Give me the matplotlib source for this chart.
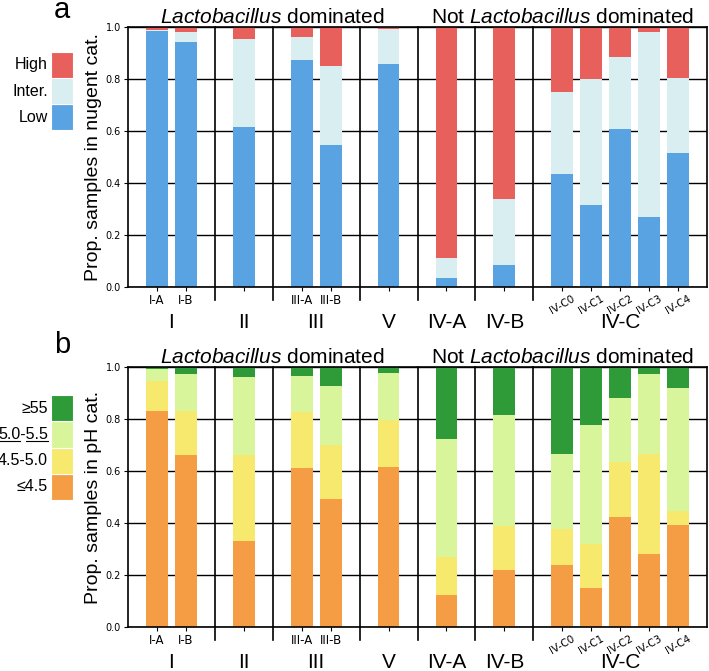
import numpy as np
import matplotlib.pyplot as plt
from matplotlib.transforms import blended_transform_factory, offset_copy

plt.rcParams['font.family'] = ['Liberation Sans', 'DejaVu Sans']
plt.rcParams['mathtext.fontset'] = 'custom'
plt.rcParams['mathtext.rm'] = 'Liberation Sans'
plt.rcParams['mathtext.it'] = 'Liberation Sans:italic'

# subgroup (bar) labels and x positions
subgroups = ['I-A', 'I-B', '', 'III-A', 'III-B', '', '', '',
             'IV-C0', 'IV-C1', 'IV-C2', 'IV-C3', 'IV-C4']
positions = [0, 1, 3, 5, 6, 8, 10, 12, 14, 15, 16, 17, 18]
groups = ['I', 'II', 'III', 'V', 'IV-A', 'IV-B', 'IV-C']
group_pos = [0.5, 3, 5.5, 8, 10, 12, 16]
separators = [2, 4, 7, 9, 11, 13]

# panel a: nugent categories (proportions)
nugent_low = [0.983, 0.941, 0.615, 0.874, 0.546, 0.858, 0.033, 0.085, 0.436, 0.314, 0.609, 0.269, 0.515]
nugent_inter = [0.005, 0.041, 0.340, 0.089, 0.303, 0.134, 0.077, 0.253, 0.315, 0.486, 0.274, 0.712, 0.290]
nugent_high = [0.012, 0.018, 0.045, 0.037, 0.151, 0.008, 0.890, 0.662, 0.249, 0.200, 0.117, 0.019, 0.195]

# panel b: pH categories (proportions)
ph_le45 = [0.832, 0.663, 0.332, 0.610, 0.492, 0.615, 0.122, 0.221, 0.240, 0.150, 0.422, 0.279, 0.394]
ph_45_50 = [0.113, 0.169, 0.331, 0.216, 0.209, 0.181, 0.146, 0.169, 0.137, 0.171, 0.214, 0.388, 0.053]
ph_50_55 = [0.047, 0.141, 0.297, 0.141, 0.225, 0.181, 0.456, 0.425, 0.287, 0.456, 0.246, 0.307, 0.474]
ph_ge55 = [0.008, 0.027, 0.040, 0.033, 0.074, 0.023, 0.276, 0.185, 0.336, 0.223, 0.118, 0.026, 0.079]

nugent_labels = ['Low', 'Inter.', 'High']
nugent_colors = ['#5aa3e3', '#d9eef1', '#e8605c']
ph_labels = ['≤4.5', '4.5-5.0', '5.0-5.5', '≥55']
ph_colors = ['#f59d45', '#f6e96e', '#d9f59c', '#2e9b38']

fig = plt.figure(figsize=(7.09, 6.71), dpi=100)
renderer = fig.canvas.get_renderer()


def panel(rect, series, colors, ylabel, letter, leg_rect, leg_labels):
    ax = fig.add_axes(rect)
    bottom = np.zeros(len(positions))
    for vals, c in zip(series, colors):
        ax.bar(positions, vals, width=0.75, bottom=bottom, color=c, zorder=2)
        bottom += np.array(vals)
    ax.set_xlim(-1, 19)
    ax.set_ylim(0, 1)
    ax.set_yticks([0, 0.2, 0.4, 0.6, 0.8, 1.0])
    ax.set_yticklabels(['0.0', '0.2', '0.4', '0.6', '0.8', '1.0'], family='DejaVu Sans')
    ax.yaxis.grid(True, color='black', lw=1)
    ax.set_axisbelow(True)
    for s in ax.spines.values():
        s.set_linewidth(1.2)
    ax.tick_params(axis='y', labelsize=7, length=3, pad=2)
    ax.tick_params(axis='x', labelsize=8.5, length=3, pad=2)
    ax.set_xticks(positions)
    ax.set_xticklabels(subgroups, family='DejaVu Sans')
    for lab, name in zip(ax.get_xticklabels(), subgroups):
        if name.startswith('IV-C'):
            lab.set_rotation(30)
            lab.set_fontsize(7.5)
    ax.set_ylabel(ylabel, fontsize=14, labelpad=3)

    tr = blended_transform_factory(ax.transData, ax.transAxes)
    for s in separators:
        ax.plot([s, s], [-0.05, 1], color='black', lw=1.2, transform=tr,
                clip_on=False, zorder=3)
    for g, p in zip(groups, group_pos):
        ax.text(p, 0, g, transform=offset_copy(tr, fig=fig, x=0, y=-36, units='dots'),
                ha='center', va='center', fontsize=15)
    ttr = offset_copy(tr, fig=fig, x=0, y=4, units='dots')
    ax.text(4, 1, r'$\mathit{Lactobacillus}$ dominated', transform=ttr,
            ha='center', va='baseline', fontsize=15)
    ax.text(14, 1, r'Not $\mathit{Lactobacillus}$ dominated', transform=ttr,
            ha='center', va='baseline', fontsize=15)

    # legend as stacked swatches
    lax = fig.add_axes(leg_rect)
    n = len(leg_labels)
    lax.bar([0] * n, [1] * n, bottom=np.arange(n), width=1, color=colors,
            edgecolor='white', lw=0.8)
    lax.set_xlim(-0.5, 0.5)
    lax.set_ylim(0, n)
    lax.axis('off')
    for i, lab in enumerate(leg_labels):
        t = lax.text(-0.64, i + 0.5, lab, ha='right', va='center', fontsize=11.5)
        if lab == '5.0-5.5':
            # underline the two numbers
            bb = t.get_window_extent(renderer)
            y = bb.y0 + 1
            for f0, f1 in [(0, 0.45), (0.56, 1)]:
                fig.add_artist(plt.Line2D([bb.x0 + f0 * bb.width, bb.x0 + f1 * bb.width],
                                          [y, y], color='black', lw=0.8,
                                          transform=None))
    fig.text(62 / 709, letter[1], letter[0], fontsize=21, ha='center', va='baseline')
    return ax


panel([128 / 709, 1 - 287 / 671, 579 / 709, 260 / 671],
      [nugent_low, nugent_inter, nugent_high], nugent_colors,
      'Prop. samples in nugent cat.', ('a', 1 - 18 / 671),
      [51 / 709, 1 - 130 / 671, 22 / 709, 78 / 671], nugent_labels)
panel([128 / 709, 1 - 627 / 671, 579 / 709, 260 / 671],
      [ph_le45, ph_45_50, ph_50_55, ph_ge55], ph_colors,
      'Prop. samples in pH cat.', ('b', 1 - 353 / 671),
      [51 / 709, 1 - 500 / 671, 22 / 709, 105 / 671], ph_labels)

fig.savefig('out.png', dpi=100)
